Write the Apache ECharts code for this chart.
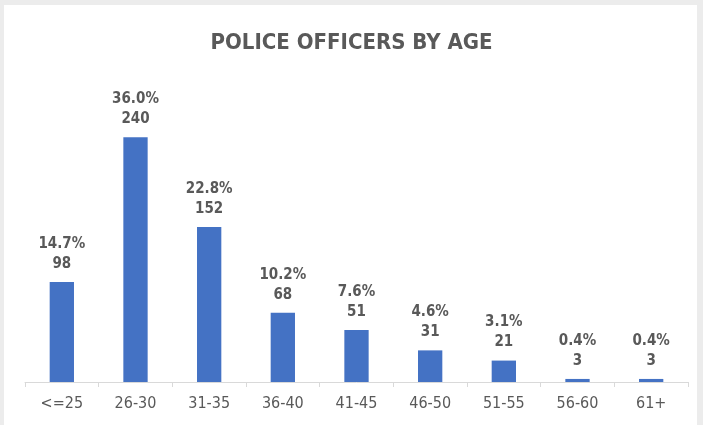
<!DOCTYPE html>
<html>
<head>
<meta charset="utf-8">
<script src="https://cdn.jsdelivr.net/npm/echarts@6/dist/echarts.min.js"></script>
<style>
  html, body { margin: 0; padding: 0; background: #ececec; }
  #frame { position: absolute; left: 4px; top: 5px; width: 693px; height: 420px; background: #fff; }
  #chart { width: 703px; height: 425px; position: absolute; left: 0; top: 0; }
</style>
</head>
<body>
<div id="frame"></div>
<div id="chart"></div>
<script>
// Age bands, head counts and share of the force
const ageBands = ['<=25', '26-30', '31-35', '36-40', '41-45', '46-50', '51-55', '56-60', '61+'];
const officers = [98, 240, 152, 68, 51, 31, 21, 3, 3];
const shares = ['14.7%', '36.0%', '22.8%', '10.2%', '7.6%', '4.6%', '3.1%', '0.4%', '0.4%'];

const font = '"Liberation Sans Narrow", "DejaVu Sans Condensed", "Noto Sans", sans-serif';
const textColor = '#595959';

const chart = echarts.init(document.getElementById('chart'), null, { renderer: 'canvas' });
chart.setOption({
  backgroundColor: 'transparent',
  animation: false,
  title: {
    text: 'POLICE OFFICERS BY AGE',
    left: 'center',
    top: 27,
    textStyle: { fontFamily: font, fontSize: 22, fontWeight: 'bold', color: textColor }
  },
  grid: { left: 25, right: 15, top: 76, bottom: 43 },
  xAxis: {
    type: 'category',
    data: ageBands,
    axisLine: { lineStyle: { color: '#d9d9d9', width: 1 } },
    axisTick: { show: true, length: 5, lineStyle: { color: '#d9d9d9' } },
    axisLabel: { fontFamily: font, fontSize: 16, color: textColor, margin: 14 }
  },
  yAxis: {
    type: 'value',
    min: 0,
    max: 300,
    show: false,
    splitLine: { show: false }
  },
  series: [{
    type: 'bar',
    data: officers,
    barWidth: '33%',
    itemStyle: { color: '#4472c4' },
    label: {
      show: true,
      position: 'top',
      distance: 8,
      formatter: p => '{p|' + shares[p.dataIndex] + '}\n{v|' + p.value + '}',
      rich: {
        p: { fontFamily: font, fontSize: 15, fontWeight: 'bold', color: textColor, lineHeight: 20 },
        v: { fontFamily: font, fontSize: 15, fontWeight: 'bold', color: textColor, lineHeight: 20 }
      }
    }
  }]
});
</script>
</body>
</html>
